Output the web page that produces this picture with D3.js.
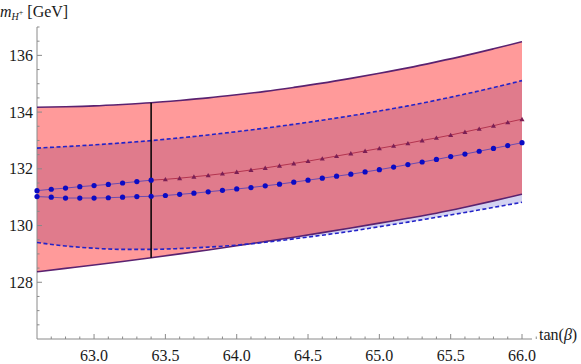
<!DOCTYPE html>
<html>
<head>
<meta charset="UTF-8">
<script src="https://cdn.jsdelivr.net/npm/d3@7"></script>
<style>
  body { margin: 0; background: #fff; }
  .axis line { stroke: #8a8a8a; stroke-width: 1; }
</style>
</head>
<body>
<div class="chart"></div>
<script>
// band curves, sampled every 0.2 in tan(beta)
const tanBand = [62.6, 62.8, 63.0, 63.2, 63.4, 63.6, 63.8, 64.0, 64.2, 64.4, 64.6, 64.8, 65.0, 65.2, 65.4, 65.6, 65.8, 66.0];
const upperSolid = [134.17, 134.19, 134.22, 134.27, 134.33, 134.41, 134.50, 134.61, 134.73, 134.87, 135.02, 135.19, 135.37, 135.56, 135.77, 135.99, 136.23, 136.48];
const lowerSolid = [128.37, 128.49, 128.61, 128.735, 128.865, 129.00, 129.14, 129.285, 129.435, 129.59, 129.75, 129.915, 130.085, 130.255, 130.435, 130.645, 130.87, 131.105];
const upperDash = [132.73, 132.785, 132.845, 132.915, 132.995, 133.09, 133.195, 133.31, 133.435, 133.57, 133.715, 133.87, 134.04, 134.22, 134.42, 134.635, 134.865, 135.11];
const lowerDash = [129.40, 129.28, 129.20, 129.16, 129.16, 129.19, 129.24, 129.31, 129.41, 129.53, 129.66, 129.80, 129.96, 130.12, 130.29, 130.46, 130.64, 130.82];

// point series, every 0.1
const tanFine = [62.6, 62.7, 62.8, 62.9, 63.0, 63.1, 63.2, 63.3, 63.4, 63.5, 63.6, 63.7, 63.8, 63.9, 64.0, 64.1, 64.2, 64.3, 64.4, 64.5, 64.6, 64.7, 64.8, 64.9, 65.0, 65.1, 65.2, 65.3, 65.4, 65.5, 65.6, 65.7, 65.8, 65.9, 66.0];
const mLower = [131.02, 131.00, 130.97, 130.97, 130.97, 130.98, 131.00, 131.02, 131.03, 131.06, 131.10, 131.14, 131.19, 131.24, 131.29, 131.34, 131.40, 131.46, 131.53, 131.60, 131.67, 131.74, 131.81, 131.89, 131.97, 132.06, 132.15, 132.24, 132.33, 132.43, 132.52, 132.62, 132.72, 132.82, 132.92];
const tanCut = 63.4;
const mUpperLeft = [131.23, 131.28, 131.32, 131.37, 131.41, 131.45, 131.50, 131.55, 131.60];
const mUpperRight = [131.60, 131.63, 131.67, 131.72, 131.77, 131.83, 131.89, 131.96, 132.03, 132.11, 132.19, 132.27, 132.36, 132.45, 132.54, 132.63, 132.72, 132.81, 132.90, 133.00, 133.09, 133.19, 133.30, 133.41, 133.52, 133.64, 133.75];

const xTicks = [63.0, 63.5, 64.0, 64.5, 65.0, 65.5, 66.0];
const yTicks = [128, 130, 132, 134, 136];

const W = 581, H = 364;
const FONT = 'Liberation Serif';
const x = d3.scaleLinear().domain([62.6, 66.0]).range([37, 522]);
const y = d3.scaleLinear().domain([126, 137]).range([339, 27]);

const svg = d3.select('.chart').append('svg').attr('width', W).attr('height', H);

const band = tanBand.map((t, i) => ({t, us: upperSolid[i], ls: lowerSolid[i], ud: upperDash[i], ld: lowerDash[i]}));
const curve = d3.curveMonotoneX;
const redArea = d3.area().curve(curve).x(d => x(d.t)).y0(d => y(d.ls)).y1(d => y(d.us));
const blueArea = d3.area().curve(curve).x(d => x(d.t)).y0(d => y(d.ld)).y1(d => y(d.ud));

svg.append('clipPath').attr('id', 'redclip').append('path').attr('d', redArea(band));

svg.append('path').attr('d', blueArea(band)).attr('fill', '#d3d3f1');
svg.append('path').attr('d', redArea(band)).attr('fill', '#ff9a9a');
svg.append('path').attr('d', blueArea(band)).attr('fill', '#e07b8c').attr('clip-path', 'url(#redclip)');

// axes
const xAxis = svg.append('g').attr('class', 'axis');
xAxis.append('line').attr('x1', 37).attr('x2', 532).attr('y1', y(126)).attr('y2', y(126));
const xMinor = d3.range(63, 67).flatMap(a => d3.range(0, 10).map(k => a - 0.4 + k * 0.1)).filter(v => v > 62.65 && v < 66.35);
xAxis.selectAll('.xm').data(xMinor).enter().append('line')
  .attr('x1', d => x(d)).attr('x2', d => x(d))
  .attr('y1', y(126)).attr('y2', d => y(126) - (Math.abs(d * 2 - Math.round(d * 2)) < 0.01 ? 5 : 2.5));
xAxis.selectAll('.xl').data(xTicks).enter().append('text')
  .attr('font-family', FONT).attr('font-size', 16).attr('fill', '#1a1a1a')
  .attr('x', d => x(d)).attr('y', 361).attr('text-anchor', 'middle').text(d => d.toFixed(1));

const yAxis = svg.append('g').attr('class', 'axis');
yAxis.append('line').attr('x1', 37).attr('x2', 37).attr('y1', y(126)).attr('y2', 27);
const yMinor = d3.range(126.5, 137.01, 0.5);
yAxis.selectAll('.ym').data(yMinor).enter().append('line')
  .attr('x1', 37).attr('x2', d => 37 + (Math.abs(d % 2) < 0.01 ? 5 : 2.5))
  .attr('y1', d => y(d)).attr('y2', d => y(d));
yAxis.selectAll('.yl').data(yTicks).enter().append('text')
  .attr('font-family', FONT).attr('font-size', 16).attr('fill', '#1a1a1a')
  .attr('x', 33).attr('y', d => y(d) + 5.5).attr('text-anchor', 'end').text(d => d);

// boundary lines
const line = key => d3.line().curve(curve).x(d => x(d.t)).y(d => y(d[key]));
['us', 'ls'].forEach(k => svg.append('path').attr('d', line(k)(band))
  .attr('fill', 'none').attr('stroke', '#5a2270').attr('stroke-width', 1.6));
['ud', 'ld'].forEach(k => svg.append('path').attr('d', line(k)(band))
  .attr('fill', 'none').attr('stroke', '#2323c8').attr('stroke-width', 1.6).attr('stroke-dasharray', '4,2.5'));

// vertical cut
const iCut = tanBand.indexOf(tanCut);
svg.append('line').attr('x1', x(tanCut)).attr('x2', x(tanCut))
  .attr('y1', y(upperSolid[iCut])).attr('y2', y(lowerSolid[iCut]))
  .attr('stroke', '#000').attr('stroke-width', 1.5);

// point series
const lower = tanFine.map((t, i) => ({t, m: mLower[i]}));
const upL = tanFine.slice(0, mUpperLeft.length).map((t, i) => ({t, m: mUpperLeft[i]}));
const upR = tanFine.slice(tanFine.indexOf(tanCut)).map((t, i) => ({t, m: mUpperRight[i]}));
const pl = d3.line().x(d => x(d.t)).y(d => y(d.m));

svg.append('path').attr('d', pl(upR)).attr('fill', 'none').attr('stroke', '#b3344f').attr('stroke-width', 1);
svg.append('path').attr('d', pl(upL)).attr('fill', 'none').attr('stroke', '#6a4bb0').attr('stroke-width', 1);
svg.append('path').attr('d', pl(lower)).attr('fill', 'none').attr('stroke', '#6a4bb0').attr('stroke-width', 1);

svg.selectAll('.tri').data(upR.slice(1)).enter().append('path')
  .attr('d', d3.symbol().type(d3.symbolTriangle).size(11))
  .attr('transform', d => `translate(${x(d.t)},${y(d.m) + 0.5})`)
  .attr('fill', '#7a1f55');
svg.selectAll('.dotL').data(upL.concat(lower)).enter().append('circle')
  .attr('cx', d => x(d.t)).attr('cy', d => y(d.m)).attr('r', 2.6).attr('fill', '#0b0bc4');

// labels
const yl = svg.append('text').attr('font-family', FONT).attr('fill', '#1a1a1a')
  .attr('x', 0).attr('y', 17).attr('font-size', 16);
yl.append('tspan').attr('font-style', 'italic').text('m');
yl.append('tspan').attr('font-style', 'italic').attr('font-size', 10).attr('dy', 3).text('H');
yl.append('tspan').attr('font-size', 8).attr('dy', -5).text('+');
yl.append('tspan').attr('dy', 2).text(' [GeV]');

const xl = svg.append('text').attr('font-family', FONT).attr('fill', '#1a1a1a')
  .attr('x', 539).attr('y', 340).attr('font-size', 16);
xl.append('tspan').text('tan(');
xl.append('tspan').attr('font-style', 'italic').text('β');
xl.append('tspan').text(')');
</script>
</body>
</html>
